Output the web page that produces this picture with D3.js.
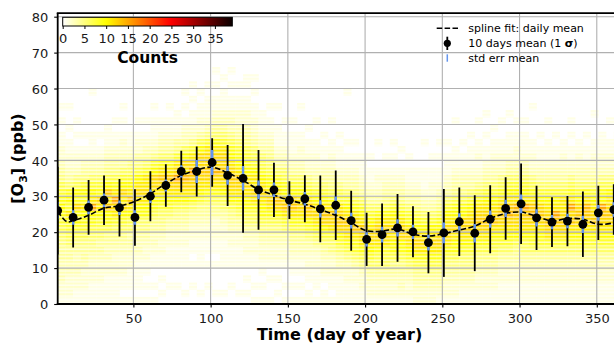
<!DOCTYPE html>
<html>
<head>
<meta charset="utf-8">
<script src="https://cdn.jsdelivr.net/npm/d3@7"></script>
<style>
  html, body { margin: 0; padding: 0; background: #fff; overflow: hidden; }
  svg { display: block; font-family: "DejaVu Sans", sans-serif; }
</style>
</head>
<body>
<svg id="chart" width="614" height="343"></svg>
<script>
// ---- 10-day mean ozone with 1-sigma spread and standard error ----
const meanDays = [1, 11, 21, 31, 41, 51, 61, 71, 81, 91, 101, 111, 121, 131, 141, 151, 161, 171, 181,
                  191, 201, 211, 221, 231, 241, 251, 261, 271, 281, 291, 301, 311, 321, 331, 341, 351, 361];
const meanO3 = [26.0, 24.1, 26.9, 28.9, 26.8, 24.1, 30.0, 33.0, 36.9, 36.9, 39.4, 35.8, 35.0, 31.8, 31.8,
                28.9, 29.3, 26.5, 27.5, 23.2, 18.0, 19.3, 21.2, 20.1, 17.1, 19.8, 22.9, 19.7, 23.6, 26.6,
                27.9, 24.0, 22.8, 23.1, 22.2, 25.4, 26.3];
const sigmaO3 = [12.2, 8.35, 7.65, 6.9, 8.0, 7.85, 6.95, 5.9, 5.75, 6.95, 6.75, 8.5, 15.15, 11.1, 7.55,
                 5.25, 6.55, 9.3, 9.7, 8.35, 7.4, 8.7, 9.45, 7.1, 8.55, 12.25, 9.55, 10.55, 9.5, 8.7,
                 11.2, 8.95, 6.95, 7.0, 9.1, 7.55, 7.05];
const stdErrO3 = [2.4, 2.0, 1.9, 1.9, 2.0, 2.0, 1.9, 1.7, 1.7, 3.2, 3.5, 2.6, 3.4, 2.6, 2.0, 1.6, 1.9,
                  2.4, 2.4, 2.2, 2.0, 2.2, 2.4, 2.0, 2.2, 2.9, 2.4, 2.6, 2.4, 2.4, 2.6, 2.4, 2.0, 2.0,
                  2.4, 2.2, 2.0];

// ---- smoothing spline of the daily mean ----
const splineDays = [1, 7, 11, 21, 31, 41, 51, 61, 71, 81, 91, 101, 111, 121, 131, 141, 151, 161, 171, 181,
                    191, 201, 211, 221, 231, 241, 251, 261, 271, 281, 291, 301, 311, 321, 331, 341, 351, 361, 366];
const splineO3 = [25.8, 22.9, 23.2, 24.7, 26.7, 27.3, 28.6, 30.7, 33.5, 35.8, 37.3, 38.1, 36.5, 34.4, 31.9,
                  30.3, 28.9, 27.8, 26.3, 24.7, 22.6, 20.4, 20.3, 20.9, 19.4, 18.9, 19.6, 20.6, 21.7, 23.8,
                  25.2, 25.6, 24.4, 23.1, 23.8, 23.6, 22.2, 22.6, 23.2];

// ---- axis ticks ----
const xTicks = [50, 100, 150, 200, 250, 300, 350];
const yTicks = [0, 10, 20, 30, 40, 50, 60, 70, 80];
const cbarTicks = [0, 5, 10, 15, 20, 25, 30, 35];
const cbarMax = 39;

// ---- 2-D histogram of hourly values: 5-day x 2-ppb bins ----
// one string per day bin (day 1-5, 6-10, ...), characters run from 0 ppb upward,
// each character is the count in base 36 ('.' = empty)
const binDays = 5, binPpb = 2;
const heatCols = [
  "12233 34456 789a9 87543 2211. 1.1.. .....",
  "12223 34467 89b8a 96432 211.1 ..1.. .....",
  "11223 33457 8a9c9 a7532 21.1. 1.... .....",
  "11222 34457 89ab9 a8543 21.1. ..... .....",
  "11122 23456 79afb a8643 2111. ....1 .....",
  "11122 23446 78abc 98643 21.1. ..... .....",
  "11112 23345 79adb da754 32111 ..... .....",
  "11112 22345 68bcf b9754 3211. 1.... .....",
  "1.112 22345 68acb ca864 3221. 1.1.. .....",
  "1.111 22344 67abd ba865 3211. ..... .....",
  "1.111 12334 569ab cba75 4221. 1.... .....",
  "1.1.1 12234 569ab cbb86 4321. 1.... .....",
  "1.1.. 11233 4579a bcca8 53211 1.1.. .....",
  ".1.1. 11223 4568a bcdb9 64321 1.... .....",
  "..1.. 11122 3468a bcdb9 64321 1.1.. .....",
  "..1.. 11122 3457a bcfcb 85421 11... .....",
  ".1... 11122 3457a bcebc a7432 1.1.1 .....",
  "..1.. 1.112 23469 bcdfc b8532 11.1. 1....",
  ".1... 11112 23458 abcdc ca742 211.1 .....",
  "..1.. 1.112 23457 9bcdc cb853 2111. 1....",
  ".1... 1.112 22457 9bcec cb964 3211. 1.1..",
  ".1... 11112 23467 abcdc cb864 32111 .1...",
  "..1.. 11122 3457a bcdcb a9753 3211. 1.1..",
  ".1... 11122 3468a bcdba 98643 2211. 1....",
  ".1.1. 11223 4679a bcba9 87543 2211. 11...",
  "1.1.. 11223 4679b cbba8 76432 211.1 .1...",
  "1.1.1 12234 579ab cba87 64321 11... .....",
  "1..1. 12234 579bc ba976 54321 1.1.. .....",
  ".1.1. 12234 57acd ba864 32111 ..1.. .....",
  "1.1.. 12234 68bdc a9764 3211. 1.... .....",
  "1.1.1 12345 79bdc a8643 2111. 1.... .....",
  "1.1.1 12345 79bcb a8643 2211. ..1.. .....",
  "11.11 22346 8acdb 97532 211.1 ..... .....",
  "1.111 22357 9bcba 86432 211.. 1.... .....",
  "11.12 23468 acdba 86432 11.1. ..... .....",
  "1.112 23568 bcdb9 75432 211.. 1.... .....",
  "11112 3468a cdcb8 75321 11.1. ..... .....",
  "11122 3579b cdba8 64321 1.1.. ....1 .....",
  "11122 4689b dcb97 54321 1.1.. ..... .....",
  "11223 579bc dba86 43211 1.... ..... .....",
  "12234 68abc ba864 3211. 1.... ..... .....",
  "12234 679bc cb964 3221. ..1.. ..... .....",
  "12234 678bc cb975 4321. 1.... ..... .....",
  "12234 579ab cba86 4321. 1.1.. ..... .....",
  "12334 579ac cb975 4321. .1... ..... .....",
  "12234 68abc b9864 3211. 1.... ..... .....",
  "22345 79bcc a9754 3211. ..... ..... .....",
  "22345 79bcb a8643 2111. ..1.. ..... .....",
  "22345 79bcb a8643 2211. 1.... ..... .....",
  "12345 79bcc a9754 3211. 1.1.. ..... .....",
  "12234 579bc cba86 43211 1.1.. ..... .....",
  "12234 579ab cba97 54321 11... 1.... .....",
  "11234 568ab cca97 54321 1.1.. ..... .....",
  "11234 568ab ccba8 64321 11.1. ..... .....",
  "11223 4579b cdcb9 75321 211.. 1.... .....",
  "11223 4579b cdcba 86432 11.1. .1... .....",
  "11223 4578a bdcba 86432 211.1 ..... .....",
  "11122 3468a bcdcb 97532 211.. 1.... .....",
  "11122 3468a bcedb a8643 2111. .1... .....",
  "11122 3457a bcdeb a8643 2211. 1.... .....",
  "11122 3467a bcdfb a8643 2111. 1.... .....",
  "11122 3468a bcedb 97532 211.. ..1.. .....",
  "11122 3468a bcdca 86432 11.1. ..... .....",
  "11122 3468b cdcba 86432 111.. 1.... .....",
  "11122 3468b cdfba 86432 11.1. ..... .....",
  "11122 3468b cdcbb 86432 211.. ..... .....",
  "11122 3468a bdcfb 97532 11.1. 1.... .....",
  "11122 3468a bcdca 86432 211.. ..... .....",
  "11122 3468a bcdeb 96432 11.1. ..... .....",
  "11122 3468a bdcba 86432 211.. .1... .....",
  "11122 3468a bcdfa 97532 2111. ..... .....",
  "11122 3468a bcdcb a7532 211.. 1.... .....",
  "11122 3468a bcdeb 97532 11.1. ..... ....."
];

// reversed "hot" colour map: white -> yellow -> red -> black
function hotR(t) {
  const v = 1 - Math.max(0, Math.min(1, t));
  const c = a => Math.max(0, Math.min(1, a));
  const r = c(0.0416 + v * (1 - 0.0416) / 0.365351);
  const g = c((v - 0.365351) / (0.746032 - 0.365351));
  const b = c((v - 0.746032) / (1 - 0.746032));
  return d3.rgb(r * 255, g * 255, b * 255).formatHex();
}
const color = d3.scaleSequential(hotR).domain([0, cbarMax]);

const svg = d3.select("#chart");
const pL = 57.7, pR = 621.5, pT = 13.1, pB = 304;
const x = d3.scaleLinear().domain([1, 366]).range([pL, pR]);
const y = d3.scaleLinear().domain([0, 81]).range([pB, pT]);

const defs = svg.append("defs");
defs.append("clipPath").attr("id", "plotClip")
  .append("rect").attr("x", pL).attr("y", pT).attr("width", pR - pL).attr("height", pB - pT);

// the hourly readings are logged in whole ppb, so the histogram shows thin horizontal streaks
const rowH = y(0) - y(1);
const streak = defs.append("pattern").attr("id", "streaks").attr("patternUnits", "userSpaceOnUse")
  .attr("width", 4).attr("height", rowH).attr("y", pB % rowH);
streak.append("rect").attr("width", 4).attr("height", rowH).attr("fill", "#fff").attr("fill-opacity", 0.35);
streak.append("rect").attr("width", 4).attr("height", rowH * 0.58).attr("fill", "#fff");
defs.append("mask").attr("id", "streakMask").attr("maskUnits", "userSpaceOnUse")
  .attr("x", 0).attr("y", 0).attr("width", 614).attr("height", 343)
  .append("rect").attr("width", 614).attr("height", 343).attr("fill", "url(#streaks)");

const plot = svg.append("g").attr("clip-path", "url(#plotClip)");

// histogram cells
const cells = [];
heatCols.forEach((s, j) => {
  Array.from(s.replace(/ /g, "")).forEach((ch, k) => {
    const n = ch === "." ? 0 : parseInt(ch, 36);
    if (n > 0) cells.push({ d0: 1 + j * binDays, d1: Math.min(366, 1 + (j + 1) * binDays), p0: k * binPpb, p1: (k + 1) * binPpb, n });
  });
});
plot.append("g").attr("mask", "url(#streakMask)").selectAll("rect").data(cells).join("rect")
  .attr("x", d => x(d.d0)).attr("width", d => x(d.d1) - x(d.d0) + 0.3)
  .attr("y", d => y(d.p1)).attr("height", d => y(d.p0) - y(d.p1) + 0.3)
  .attr("fill", d => color(d.n));

// grid
const grid = plot.append("g").attr("stroke", "#b0b0b0").attr("stroke-width", 1.1);
grid.selectAll(".gx").data(xTicks).join("line").attr("class", "gx")
  .attr("x1", d => x(d)).attr("x2", d => x(d)).attr("y1", pT).attr("y2", pB);
grid.selectAll(".gy").data(yTicks).join("line").attr("class", "gy")
  .attr("y1", d => y(d)).attr("y2", d => y(d)).attr("x1", pL).attr("x2", pR);

// spline fit
const spline = d3.line().x((d, i) => x(splineDays[i])).y(d => y(d)).curve(d3.curveCatmullRom.alpha(0.5));
plot.append("path").attr("d", spline(splineO3)).attr("fill", "none")
  .attr("stroke", "#000").attr("stroke-width", 1.6).attr("stroke-dasharray", "5.5,2.4");

// 1-sigma bars
const pts = meanDays.map((d, i) => ({ d, m: meanO3[i], s: sigmaO3[i], e: stdErrO3[i] }));
plot.append("g").selectAll("line").data(pts).join("line")
  .attr("x1", p => x(p.d)).attr("x2", p => x(p.d))
  .attr("y1", p => y(p.m - p.s)).attr("y2", p => y(p.m + p.s))
  .attr("stroke", "#000").attr("stroke-width", 1.8);
// standard error bars
plot.append("g").selectAll("line").data(pts).join("line")
  .attr("x1", p => x(p.d)).attr("x2", p => x(p.d))
  .attr("y1", p => y(p.m - p.e)).attr("y2", p => y(p.m + p.e))
  .attr("stroke", "#6495ed").attr("stroke-width", 2.4);
// means
plot.append("g").selectAll("circle").data(pts).join("circle")
  .attr("cx", p => x(p.d)).attr("cy", p => y(p.m)).attr("r", 4.4).attr("fill", "#000");

// axes
const yAxis = svg.append("g").attr("transform", `translate(${pL},0)`)
  .call(d3.axisLeft(y).tickValues(yTicks).tickSize(3.5).tickPadding(6));
const xAxis = svg.append("g").attr("transform", `translate(0,${pB})`)
  .call(d3.axisBottom(x).tickValues(xTicks).tickSize(3.5).tickPadding(5.5));
[yAxis, xAxis].forEach(a => {
  a.select(".domain").remove();
  a.selectAll(".tick line").attr("stroke", "#000").attr("stroke-width", 1.1);
  a.selectAll(".tick text").attr("fill", "#1a1a1a").attr("font-size", 13).attr("font-family", "DejaVu Sans");
});
yAxis.selectAll(".tick text").attr("dy", "0.36em");
xAxis.selectAll(".tick text").attr("dy", "0.74em");

// spines
const spines = svg.append("g").attr("stroke", "#000").attr("stroke-width", 1.8).attr("fill", "none");
spines.append("line").attr("x1", pL).attr("x2", pL).attr("y1", pT).attr("y2", pB);
spines.append("line").attr("x1", pL - 0.9).attr("x2", 614).attr("y1", pB).attr("y2", pB);
spines.append("line").attr("x1", pL - 0.9).attr("x2", 614).attr("y1", pT).attr("y2", pT);

// axis titles
svg.append("text").attr("x", (pL + pR) / 2).attr("y", 339.7).attr("text-anchor", "middle")
  .attr("font-size", 16).attr("font-weight", "bold").text("Time (day of year)");
const yl = svg.append("text").attr("transform", `translate(23.4,${(pT + pB) / 2}) rotate(-90)`)
  .attr("text-anchor", "middle").attr("font-size", 16).attr("font-weight", "bold");
yl.append("tspan").text("[O");
yl.append("tspan").attr("font-size", 11).attr("dy", 3.5).text("3");
yl.append("tspan").attr("dy", -3.5).text("] (ppb)");

// colour bar
const cb = svg.append("g");
const cbx = d3.scaleLinear().domain([0, cbarMax]).range([62.7, 232.3]);
const grad = defs.append("linearGradient").attr("id", "cbGrad");
d3.range(0, 1.0001, 0.02).forEach(t => grad.append("stop").attr("offset", t).attr("stop-color", hotR(t)));
cb.append("rect").attr("x", cbx(0)).attr("y", 17.3).attr("width", cbx(cbarMax) - cbx(0)).attr("height", 8.7)
  .attr("fill", "url(#cbGrad)").attr("stroke", "#000").attr("stroke-width", 1);
const cbAxis = cb.append("g").attr("transform", "translate(0,26)")
  .call(d3.axisBottom(cbx).tickValues(cbarTicks).tickSize(3).tickPadding(4.8));
cbAxis.select(".domain").remove();
cbAxis.selectAll(".tick line").attr("stroke", "#000");
cbAxis.selectAll(".tick text").attr("fill", "#1a1a1a").attr("font-size", 13).attr("font-family", "DejaVu Sans").attr("dy", "0.74em");
cb.append("text").attr("x", 147.5).attr("y", 63).attr("text-anchor", "middle")
  .attr("font-size", 15.5).attr("font-weight", "bold").text("Counts");

// legend
const lg = svg.append("g").attr("font-size", 11);
lg.append("line").attr("x1", 436.7).attr("x2", 459).attr("y1", 28.3).attr("y2", 28.3)
  .attr("stroke", "#000").attr("stroke-width", 1.6).attr("stroke-dasharray", "5.5,2.4");
lg.append("text").attr("x", 468.3).attr("y", 31.9).text("spline fit: daily mean");
lg.append("line").attr("x1", 447.3).attr("x2", 447.3).attr("y1", 36.7).attr("y2", 50)
  .attr("stroke", "#000").attr("stroke-width", 1.8);
lg.append("circle").attr("cx", 447.3).attr("cy", 43.3).attr("r", 3.6).attr("fill", "#000");
const t2 = lg.append("text").attr("x", 468.3).attr("y", 46.9);
t2.append("tspan").text("10 days mean (1 ");
t2.append("tspan").attr("font-weight", "bold").text("σ");
t2.append("tspan").text(")");
lg.append("line").attr("x1", 447.3).attr("x2", 447.3).attr("y1", 54.3).attr("y2", 61.7)
  .attr("stroke", "#6495ed").attr("stroke-width", 1.5);
lg.append("text").attr("x", 468.3).attr("y", 61.6).text("std err mean");
</script>
</body>
</html>
